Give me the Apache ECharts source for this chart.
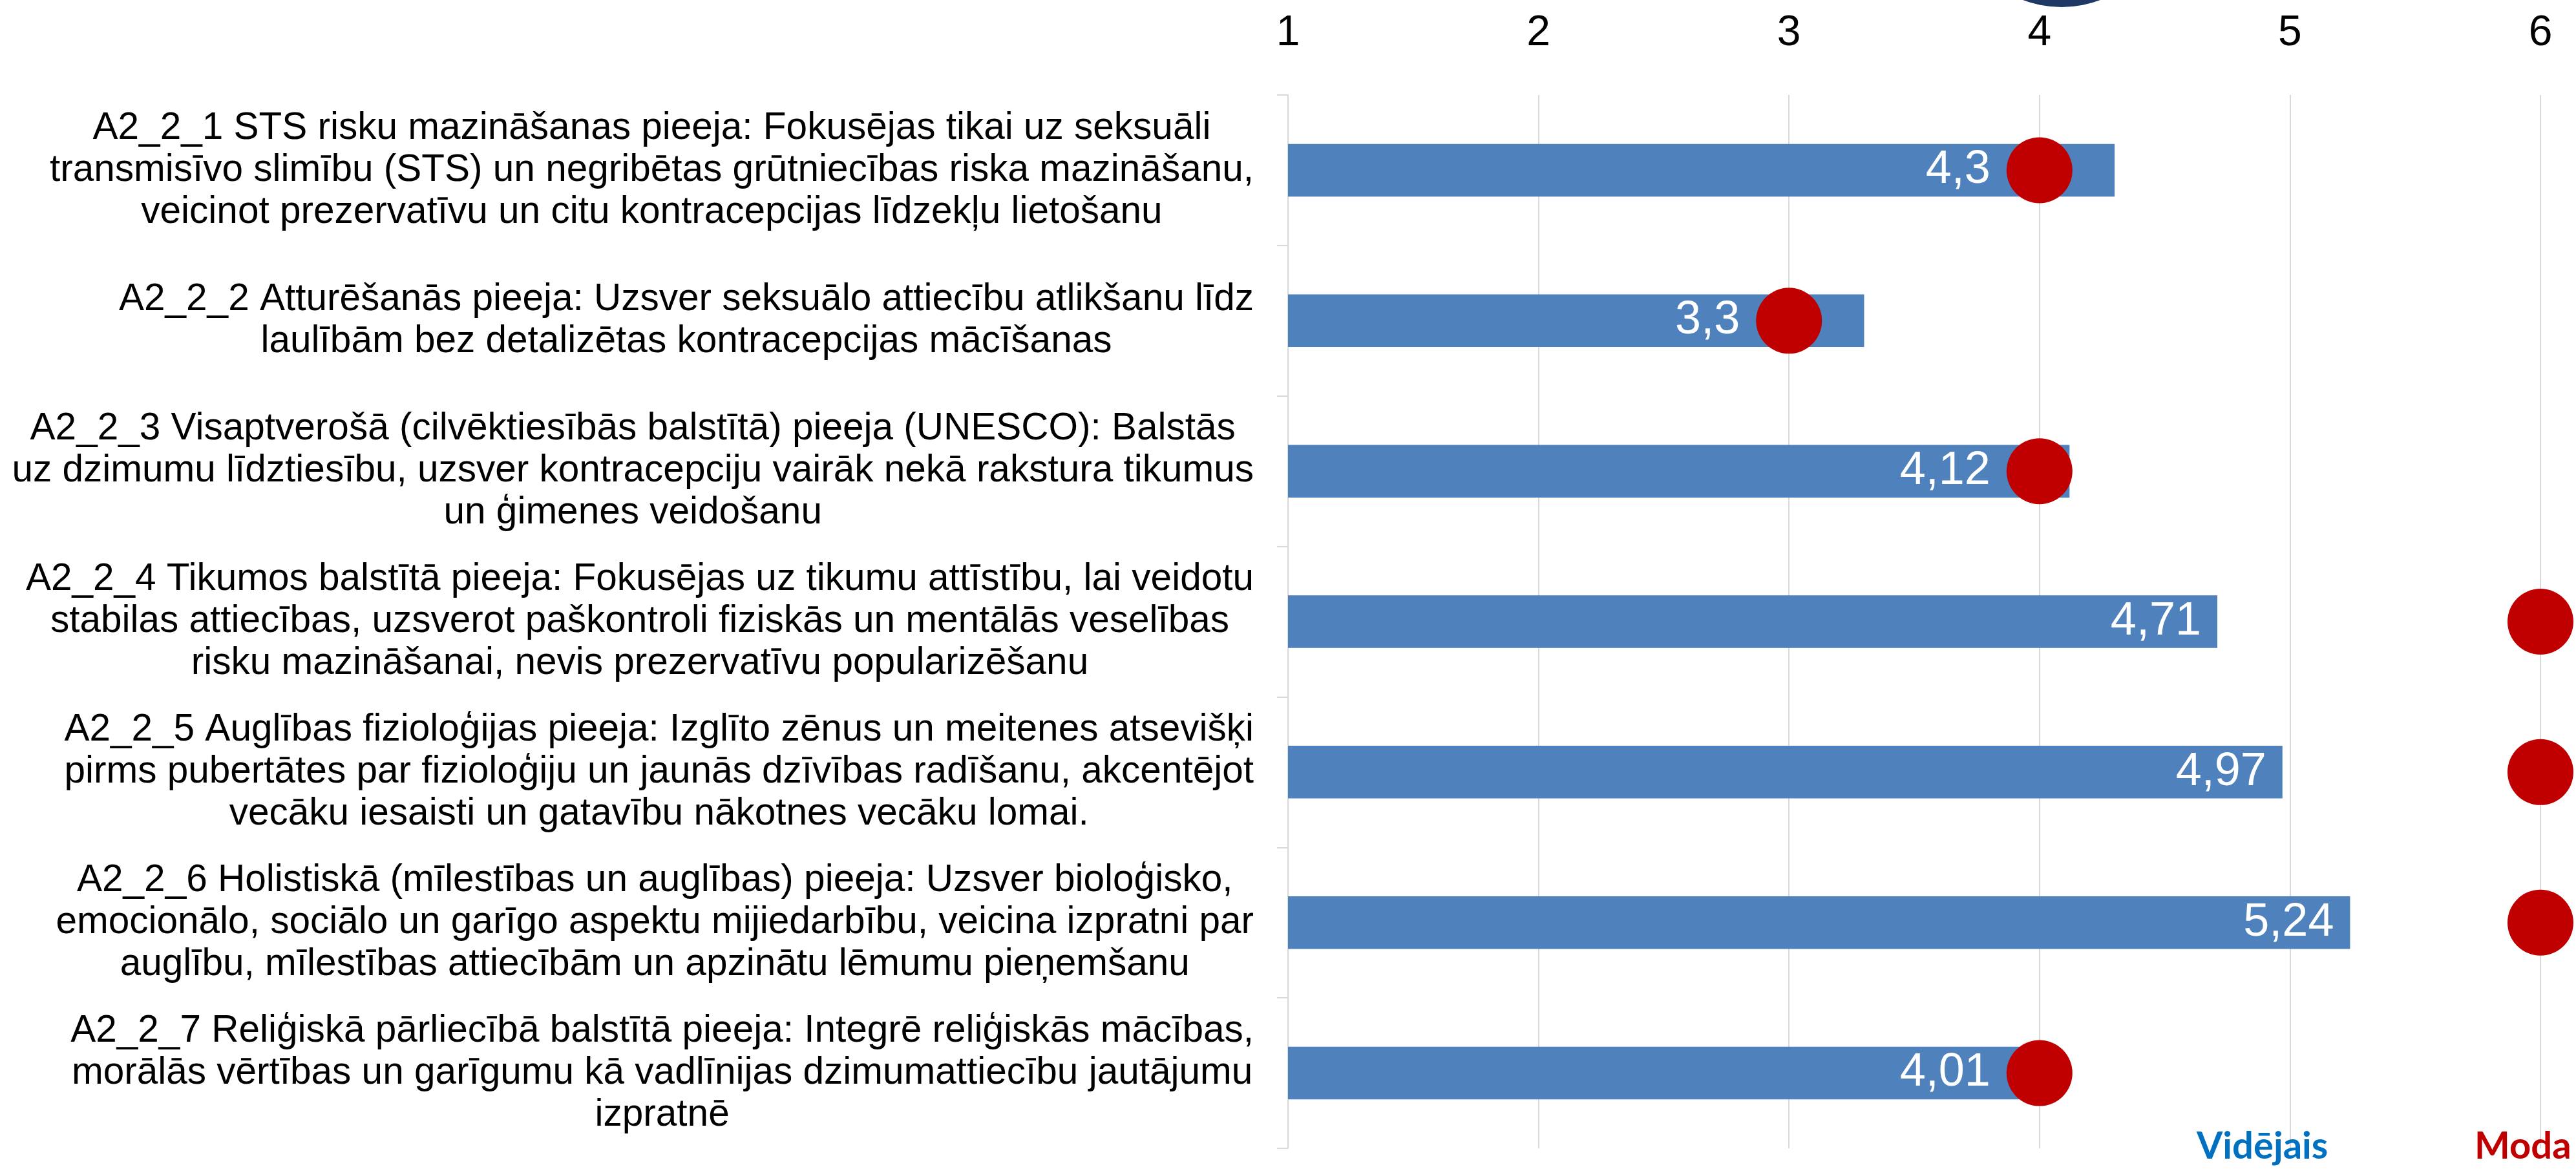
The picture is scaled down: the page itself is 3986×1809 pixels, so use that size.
<!DOCTYPE html>
<html><head><meta charset="utf-8">
<script src="https://cdn.jsdelivr.net/npm/echarts@6/dist/echarts.min.js"></script>
<style>html,body{margin:0;padding:0;background:#fff}#c{width:3986px;height:1809px}</style>
</head><body><div id="c"></div>
<script>
const categories = [
  "A2_2_1 STS risku mazināšanas pieeja: Fokusējas tikai uz seksuāli\ntransmisīvo slimību (STS) un negribētas grūtniecības riska mazināšanu,\nveicinot prezervatīvu un citu kontracepcijas līdzekļu lietošanu",
  "A2_2_2 Atturēšanās pieeja: Uzsver seksuālo attiecību atlikšanu līdz\nlaulībām bez detalizētas kontracepcijas mācīšanas",
  "A2_2_3 Visaptverošā (cilvēktiesībās balstītā) pieeja (UNESCO): Balstās\nuz dzimumu līdztiesību, uzsver kontracepciju vairāk nekā rakstura tikumus\nun ģimenes veidošanu",
  "A2_2_4 Tikumos balstītā pieeja: Fokusējas uz tikumu attīstību, lai veidotu\nstabilas attiecības, uzsverot paškontroli fiziskās un mentālās veselības\nrisku mazināšanai, nevis prezervatīvu popularizēšanu",
  "A2_2_5 Auglības fizioloģijas pieeja: Izglīto zēnus un meitenes atsevišķi\npirms pubertātes par fizioloģiju un jaunās dzīvības radīšanu, akcentējot\nvecāku iesaisti un gatavību nākotnes vecāku lomai.",
  "A2_2_6 Holistiskā (mīlestības un auglības) pieeja: Uzsver bioloģisko,\nemocionālo, sociālo un garīgo aspektu mijiedarbību, veicina izpratni par\nauglību, mīlestības attiecībām un apzinātu lēmumu pieņemšanu",
  "A2_2_7 Reliģiskā pārliecībā balstītā pieeja: Integrē reliģiskās mācības,\nmorālās vērtības un garīgumu kā vadlīnijas dzimumattiecību jautājumu\nizpratnē"
];
const meanValues = [4.3, 3.3, 4.12, 4.71, 4.97, 5.24, 4.01];
const modeValues = [4, 3, 4, 6, 6, 6, 4];
const axisMin = 1, axisMax = 6, axisStep = 1;
const seriesNames = ['Vidējais', 'Moda'];

const fmt = v => String(v).replace('.', ',');
const dotCoversEnd = i => modeValues[i] - meanValues[i] < 0.5;
const valueLabel = {color: '#fff', fontSize: 72, fontFamily: 'Liberation Sans, Arial, sans-serif'};

const chart = echarts.init(document.getElementById('c'));
chart.setOption({
  backgroundColor: '#fff',
  animation: false,
  grid: {left: 1993, right: 55, top: 147, bottom: 32, containLabel: false},
  xAxis: {
    type: 'value', position: 'top', min: axisMin, max: axisMax, interval: axisStep,
    axisLine: {show: false}, axisTick: {show: false},
    splitLine: {show: true, lineStyle: {color: '#D9D9D9', width: 2}},
    axisLabel: {color: '#000', fontSize: 66, fontFamily: 'Liberation Sans, Arial, sans-serif', margin: 62}
  },
  yAxis: {
    type: 'category', inverse: true, data: categories,
    axisLine: {show: true, lineStyle: {color: '#D9D9D9', width: 2}},
    axisTick: {show: true, length: 17, lineStyle: {color: '#D9D9D9', width: 2}},
    axisLabel: {
      interval: 0, margin: 53, align: 'right', color: '#000',
      fontSize: 58.5, lineHeight: 65, fontFamily: 'Liberation Sans, Arial, sans-serif',
      formatter: s => s.split('\n').map(l => '{c|' + l + '}').join('\n'),
      rich: {c: {align: 'center', fontSize: 58.5, lineHeight: 65, color: '#000', fontFamily: 'Liberation Sans, Arial, sans-serif'}}
    }
  },
  legend: [
    {data: [{name: seriesNames[0], textStyle: {color: '#0070C0'}}], icon: 'none', itemWidth: 0, itemHeight: 0,
     left: 3394, top: 1745, padding: 0, selectedMode: false,
     textStyle: {fontSize: 58, fontWeight: 'bold', fontFamily: 'Lato, Open Sans, sans-serif'}},
    {data: [{name: seriesNames[1], textStyle: {color: '#C00000'}}], icon: 'none', itemWidth: 0, itemHeight: 0,
     left: 3824, top: 1745, padding: 0, selectedMode: false,
     textStyle: {fontSize: 58, fontWeight: 'bold', fontFamily: 'Lato, Open Sans, sans-serif'}}
  ],
  graphic: [{type: 'circle', shape: {cx: 3190, cy: -158, r: 169}, style: {fill: '#1F3864'}, silent: true}],
  series: [
    {
      name: seriesNames[0], type: 'bar', barWidth: '35%',
      itemStyle: {color: '#4F81BD'},
      data: meanValues.map((v, i) => ({
        value: v,
        label: {show: !dotCoversEnd(i), position: 'insideRight', distance: 25, formatter: p => fmt(p.value), ...valueLabel}
      }))
    },
    {
      name: seriesNames[1], type: 'scatter', symbol: 'circle', symbolSize: 102,
      itemStyle: {color: '#C00000', opacity: 1},
      z: 3,
      data: modeValues.map((m, i) => ({
        value: [m, i],
        label: {show: dotCoversEnd(i), position: 'left', distance: 25, formatter: () => fmt(meanValues[i]), ...valueLabel}
      }))
    }
  ]
});
</script></body></html>
